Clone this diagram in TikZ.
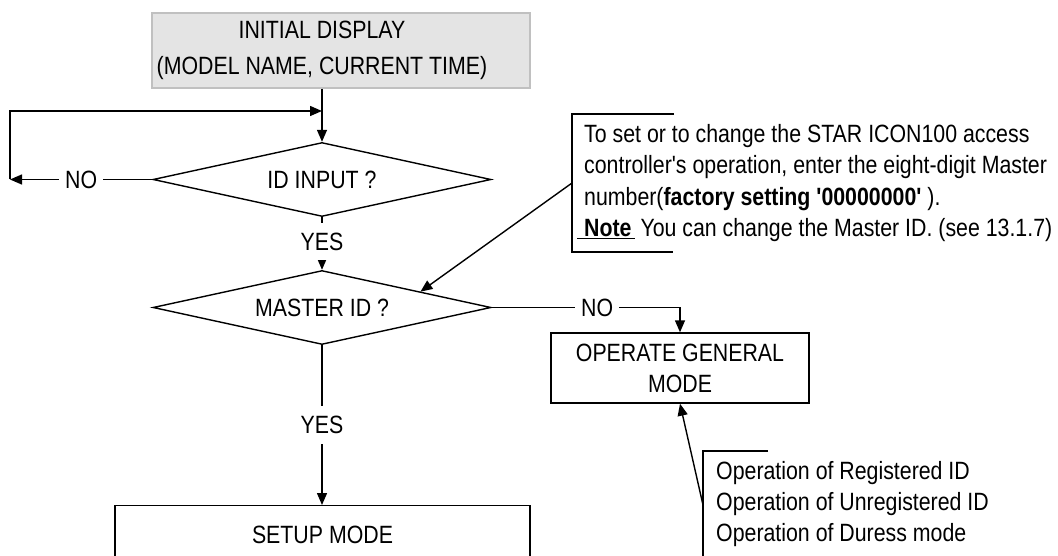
\documentclass[tikz,border=0pt]{standalone}
\usepackage{fontspec}
\setmainfont[FakeStretch=0.853,Ligatures=TeXOff]{Liberation Sans}
\usetikzlibrary{arrows.meta,calc,shapes.geometric}
\definecolor{panelfill}{HTML}{E4E4E4}
\definecolor{panelrule}{HTML}{C0C0C0}
\newcommand{\capshift}{\rule{38pt}{0pt}}
\tikzset{
  flow/.style={line width=1.4pt, draw=black},
  arr/.style={flow, -{Triangle[length=12pt,width=10pt]}},
  txt/.style={font=\fontsize{25}{31}\selectfont, inner sep=0pt},
  decision/.style={txt, flow, shape=diamond, aspect=4.5,
    minimum width=338pt, minimum height=74pt},
  stepbox/.style={txt, flow, rectangle, align=center},
  startbox/.style={txt, rectangle, align=center, fill=panelfill,
    draw=panelrule, line width=2pt},
  lbl/.style={txt, fill=white, inner xsep=6pt, inner ysep=10pt},
  remark/.style={txt, align=left, anchor=west},
}
\begin{document}
\begin{tikzpicture}[x=1pt,y=-1pt]
\useasboundingbox (0,0) rectangle (1058,556);
\clip (0,0) rectangle (1058,556);

% process steps (the start panel's caption sits left of the panel's centre)
\node[startbox, minimum width=378pt, minimum height=75pt] (init) at (341,50.5)
  {INITIAL DISPLAY\capshift\\[5pt](MODEL NAME, CURRENT TIME)\capshift};
\node[decision] (id) at (322,179.5) {ID INPUT ?};
\node[decision] (master) at (322,307.5) {MASTER ID ?};
\node[stepbox, minimum width=258pt, minimum height=70pt] (operate) at (680,368)
  {OPERATE GENERAL\\MODE};
\node[stepbox, minimum width=415pt, minimum height=58pt, anchor=north] (setup)
  at (322.5,505) {SETUP MODE};

% remarks
\node[remark, font=\fontsize{25}{31.5}\selectfont] (note) at (584,183)
  {To set or to change the STAR ICON100 access\\
   controller's operation, enter the eight-digit  Master\\
   number(\textbf{factory setting '00000000'} ).\\
   \llap{\underline{\hspace{7pt}}}\underline{\textbf{Note}\hspace{3pt}} You can change the Master ID. (see 13.1.7)};
\draw[flow] (674,114) -- (572,114) -- (572,252) -- (673,252);
\coordinate (notetail) at (572,183);

\node[remark] (ops) at (716,504)
  {Operation of Registered ID\\Operation of Unregistered ID\\Operation of Duress mode};
\draw[flow] (768,451) -- (703,451) -- (703,560);
\coordinate (opstail) at (703,505);

% connectors
\coordinate (loopL) at (10,179.5);
\coordinate (loopT) at (322,111);
\draw[arr] (id.north |- init.south) -- (id.north);
\draw[arr] (id.west) -- node[lbl]{NO} (loopL);
\draw[arr] (loopL) |- (loopT);
\draw[arr] (id.south) -- node[lbl, pos=0.46]{YES} (master.north);
\draw[arr] (master.east) -| node[lbl, pos=0.28]{NO} (operate.north);
\draw[arr] (master.south) -- node[lbl]{YES} (master.south |- setup.north);
\draw[arr] (notetail) -- ($(master.north)!0.58!(master.east)$);
\draw[arr] (opstail) -- (operate.south);
\end{tikzpicture}
\end{document}
